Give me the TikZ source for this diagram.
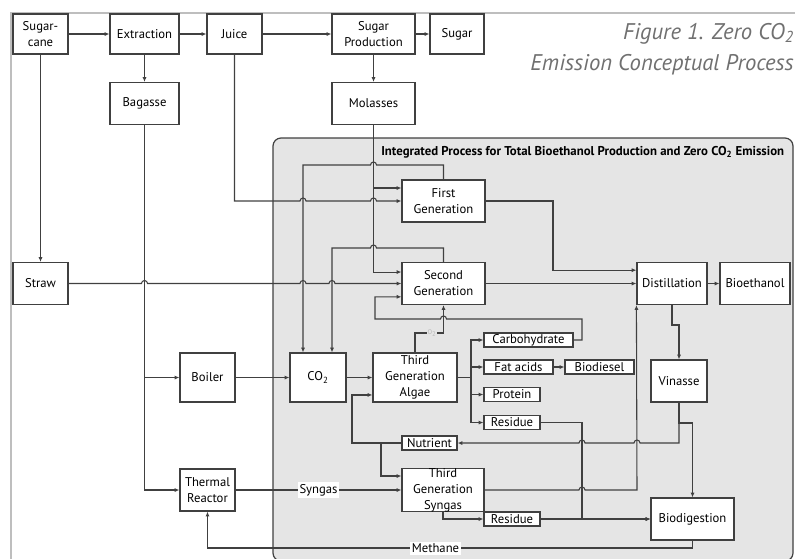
\documentclass[tikz,border=0pt]{standalone}
\usepackage{fontspec}
\setmainfont{PT Sans}
\usetikzlibrary{arrows.meta}

\definecolor{linegray}{HTML}{404040}
\definecolor{regionfill}{HTML}{E5E5E5}
\definecolor{captiongray}{HTML}{707070}
\definecolor{framegray}{HTML}{BEBEBE}

% line hops (left-to-right and right-to-left)
\newcommand{\hop}[2]{-- ({#1-3},#2) arc[start angle=180,end angle=0,radius=2.25pt]}
\newcommand{\hopl}[2]{-- ({#1+3},#2) arc[start angle=0,end angle=180,radius=2.25pt]}

\begin{document}
\begin{tikzpicture}[
    x=0.75pt, y=-0.75pt,
    >={Latex[length=3.5pt,width=3pt]},
    every node/.style={font=\fontsize{9.5}{12}\selectfont, inner sep=0pt},
    box/.style={draw=linegray, line width=0.9pt, fill=white, align=center},
    tag/.style={draw=linegray, line width=0.9pt, fill=white, minimum height=10.5pt},
    flow/.style={->, draw=linegray, line width=0.8pt},
    lbl/.style={fill=white, inner sep=1.5pt}
]

\def\ws{41.25pt}
\def\wm{51.75pt}
\def\wl{62.25pt}
\def\hs{30pt}
\def\hm{31.5pt}

\useasboundingbox (0,0) rectangle (795,558);

% frame and integrated region
\draw[framegray, line width=0.8pt] (11,560) -- (11,13) -- (800,13);
\draw[draw=linegray, fill=regionfill, line width=0.9pt, rounded corners=6pt]
    (273,138) rectangle (793,561);
\node[font=\bfseries\fontsize{9.6}{11}\selectfont, anchor=west] (regtitle) at (381,152)
    {Integrated Process for Total Bioethanol Production and Zero CO\textsubscript{2} Emission};

% caption
\node[font=\itshape\fontsize{17}{20.5}\selectfont, text=captiongray, align=right,
      anchor=north east] (caption) at (794,23)
    {Figure 1. Zero CO\textsubscript{2}\\[2.5pt]Emission Conceptual Process};

% top row
\node[box, minimum width=\ws, minimum height=\hs] (cane)    at (40.5,34)  {Sugar-\\cane};
\node[box, minimum width=\wm, minimum height=\hs] (extract) at (144.5,34) {Extraction};
\node[box, minimum width=\ws, minimum height=\hs] (juice)   at (234.5,34) {Juice};
\node[box, minimum width=\wl, minimum height=\hs] (sugprod) at (373.5,34) {Sugar\\Production};
\node[box, minimum width=40.5pt, minimum height=\hs] (sugar) at (457,34) {Sugar};

\node[box, minimum width=\wm, minimum height=\hm] (bagasse)  at (144.5,103.5) {Bagasse};
\node[box, minimum width=\wl, minimum height=\hm] (molasses) at (373.5,103.5) {Molasses};

% left column
\node[box, minimum width=\ws, minimum height=\hm] (straw)   at (40.5,283.5)  {Straw};
\node[box, minimum width=\ws, minimum height=36.75pt] (boiler) at (207.5,377.5) {Boiler};
\node[box, minimum width=\ws, minimum height=\hm] (thermal) at (207.5,490) {Thermal\\Reactor};

% generations
\node[box, minimum width=\wl, minimum height=\hm] (first)  at (443.5,201)   {First\\Generation};
\node[box, minimum width=\wl, minimum height=\hm] (second) at (443.5,283.5) {Second\\Generation};
\node[box, minimum width=42pt, minimum height=36.75pt] (co2) at (318,377.5) {CO\textsubscript{2}};
\node[box, minimum width=63pt, minimum height=36.75pt] (algae) at (415,377.5) {Third\\Generation\\Algae};
\node[box, minimum width=61.5pt, minimum height=\hm] (syn3) at (443,490) {Third\\Generation\\Syngas};

% algae products
\node[tag, minimum width=66.75pt] (carbo)     at (528.5,340) {Carbohydrate};
\node[tag, minimum width=\wm]     (fat)       at (518.5,367) {Fat acids};
\node[tag, minimum width=\wm]     (biodiesel) at (599.5,367) {Biodiesel};
\node[tag, minimum width=42pt]    (protein)   at (512,394.5) {Protein};
\node[tag, minimum width=42pt]    (res1)      at (512,422.5) {Residue};
\node[tag, minimum width=\ws]     (nutrient)  at (429.5,443) {Nutrient};
\node[tag, minimum width=42pt]    (res2)      at (512,519)   {Residue};

% right column
\node[box, minimum width=52.5pt, minimum height=\hm] (distill) at (672,283.5) {Distillation};
\node[box, minimum width=52.5pt, minimum height=\hm] (bioeth)  at (755,283.5) {Bioethanol};
\node[box, minimum width=42pt, minimum height=\hm]   (vinasse) at (679,381)   {Vinasse};
\node[box, minimum width=\wl, minimum height=\hm]    (biodig)  at (692.5,519) {Biodigestion};

% top row flows
\draw[flow] (cane) -- (extract);
\draw[flow] (extract) -- (juice);
\draw[flow] (juice) -- (sugprod);
\draw[flow] (sugprod) -- (sugar);
\draw[flow] (extract) -- (bagasse);
\draw[flow] (sugprod) -- (molasses);
\draw[flow] (cane) -- (straw);

% feeds to first and second generation
\draw[flow] (juice.south) -- (234.5,201) \hop{303}{201} \hop{373.5}{201} -- (first.west);
\draw[flow] (molasses.south) |- ([yshift=9.75pt]first.west);
\draw[flow] (molasses.south) |- ([yshift=8.6pt]second.west);
\draw[flow] (straw.east) \hop{144.5}{283.5} \hop{303}{283.5} \hop{332}{283.5} -- (second.west);
\draw[flow] (carbo.east) -- (582,340) -- (582,319) \hopl{443.5}{319} -- (375,319)
    |- ([yshift=-10pt]second.west);
\draw[flow] (algae.north) -- (415,333) -- node[pos=0.6, fill=regionfill, inner sep=0.5pt,
    text=gray!55, font=\fontsize{5}{6}\selectfont] (o2) {O\textsubscript{2}} (443.5,333)
    -- (second.south);

% back to CO2
\draw[flow] (first.north) -- (443.5,165) \hopl{373.5}{165} -- (303,165) -- ([xshift=-11.25pt]co2.north);
\draw[flow] (second.north) -- (443.5,248) \hopl{373.5}{248} -- (332,248) -- ([xshift=10.5pt]co2.north);

% to distillation
\draw[flow] (first.east) -- (553,201) |- ([yshift=10pt]distill.west);
\draw[flow] (second) -- (distill);
\draw[flow] (distill) -- (bioeth);
\draw[flow] (distill.south) -- (672,325) -| (vinasse.north);

% bagasse route
\draw[flow] (bagasse.south) |- (boiler.west);
\draw[flow] (bagasse.south) |- (thermal.west);
\draw[flow] (boiler) -- (co2);
\draw[flow] (co2) -- (algae);

% algae products
\draw[flow] (algae.east) -- (471,377.5) |- (carbo.west);
\draw[flow] (algae.east) -- (471,377.5) |- (fat.west);
\draw[flow] (algae.east) -- (471,377.5) |- (protein.west);
\draw[flow] (algae.east) -- (471,377.5) |- (res1.west);
\draw[flow] (fat) -- (biodiesel);

% nutrient loop
\draw[flow] (vinasse.south) -- (679,443) \hopl{637}{443} \hopl{582}{443} -- (nutrient.east);
\draw[flow] (nutrient.west) -- (352,443) |- ([yshift=-13.1pt]algae.west);
\draw[flow] (nutrient.west) -- (381,443) |- ([yshift=10.5pt]syn3.west);

% syngas route
\draw[flow] (thermal) -- node[lbl] (syngas) {Syngas} (syn3);
\draw[flow] (syn3.east) \hop{582}{490} -- (637,490) -- (distill.south west);
\draw[flow] (syn3.south) |- (res2.west);

% biodigestion
\draw[flow] (res1.east) -- (582,422.5) -- (582,519) -- (biodig.west);
\draw[flow] (res2) -- (biodig);
\draw[flow] (vinasse.south) -- (679,423) -| (biodig.north);
\draw[flow] (biodig.south) -- (692.5,548) -- node[lbl, pos=0.53] (methane) {Methane}
    (207.5,548) -- (thermal.south);

\end{tikzpicture}
\end{document}
